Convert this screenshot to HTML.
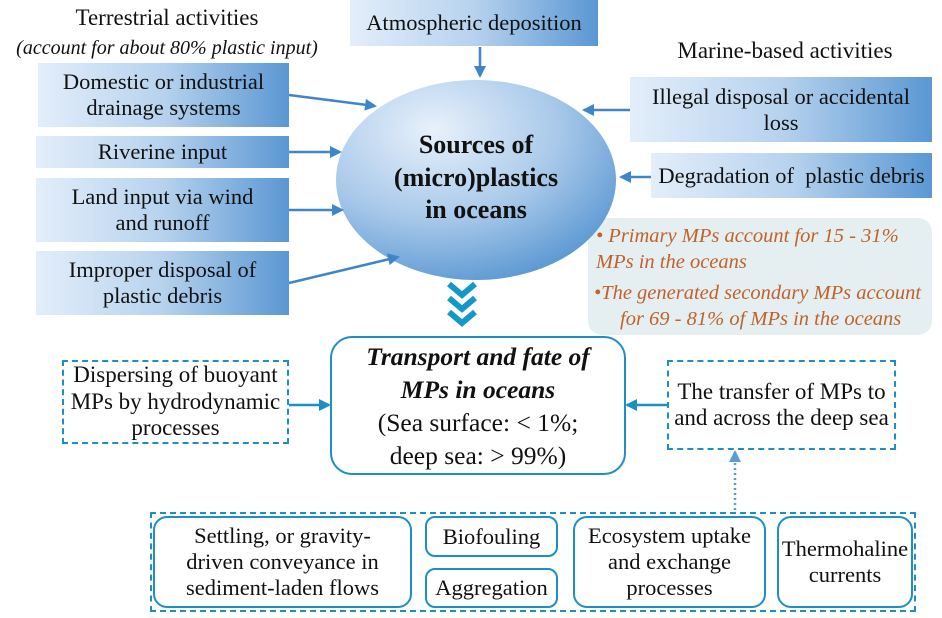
<!DOCTYPE html>
<html><head><meta charset="utf-8"><style>
body{margin:0;width:942px;height:618px;background:#fff;position:relative;overflow:hidden;font-family:"Liberation Serif","Times New Roman",serif;color:#111}
.a{position:absolute;display:flex;align-items:center;justify-content:center;text-align:center;box-sizing:border-box;line-height:1.15;white-space:nowrap}
.g{background:linear-gradient(90deg,#e3eefa 0%,#b7d2ee 50%,#5a97d3 100%);font-size:22.5px}
.d{border:2.5px dashed #1c8fc4;font-size:23px}
.r{border:2.5px solid #1c8fc4;border-radius:14px;font-size:22.5px}
svg{position:absolute;left:0;top:0}
</style></head><body>
<svg width="942" height="618">
<defs>
<radialGradient id="eg" cx="0.35" cy="0.25" r="0.8"><stop offset="0" stop-color="#e8f1fb"/><stop offset="0.55" stop-color="#a9c9ea"/><stop offset="1" stop-color="#5b98d2"/></radialGradient>
<marker id="ar" markerWidth="12" markerHeight="12" refX="10" refY="6" orient="auto" markerUnits="userSpaceOnUse"><path d="M0,0 L12,6 L0,12 z" fill="#3f86c8"/></marker>
<marker id="ar2" markerWidth="12" markerHeight="12" refX="10" refY="6" orient="auto" markerUnits="userSpaceOnUse"><path d="M0,0 L12,6 L0,12 z" fill="#1c8fc4"/></marker>
<marker id="ar3" markerWidth="12" markerHeight="12" refX="10" refY="6" orient="auto" markerUnits="userSpaceOnUse"><path d="M0,0 L12,6 L0,12 z" fill="#5a9dd0"/></marker>
</defs>
<rect x="588" y="218" width="344" height="117" rx="14" fill="#e5eef1"/>
<ellipse cx="476" cy="180" rx="140" ry="100" fill="url(#eg)"/>
<g stroke="#3f86c8" stroke-width="2.5" fill="none" marker-end="url(#ar)">
<line x1="289" y1="95" x2="375" y2="106"/>
<line x1="289" y1="152" x2="340" y2="152"/>
<line x1="289" y1="210" x2="342" y2="210"/>
<line x1="289" y1="283" x2="398" y2="257"/>
<line x1="480" y1="47" x2="480" y2="76"/>
<line x1="630" y1="110" x2="584" y2="110"/>
<line x1="651" y1="177" x2="621" y2="177"/>
</g>
<g stroke="#1c8fc4" stroke-width="2.5" fill="none" marker-end="url(#ar2)">
<line x1="289" y1="405" x2="329" y2="405"/>
<line x1="667" y1="405" x2="627" y2="405"/>
</g>
<line x1="735" y1="510" x2="735" y2="452" stroke="#5a9dd0" stroke-width="2.5" stroke-dasharray="2,3" marker-end="url(#ar3)"/>
<g fill="none" stroke="#1497c9" stroke-width="6">
<polyline points="449,284 462,295 475,284"/>
<polyline points="449,298 462,309 475,298"/>
<polyline points="449,312 462,323 475,312"/>
</g>
</svg>
<div class="a" style="left:0;top:4px;width:334px;font-size:23px;display:block;line-height:1.25">Terrestrial activities<br><i style="font-size:20px">(account for about 80% plastic input)</i></div>
<div class="a g" style="left:38px;top:63px;width:251px;height:64px">Domestic or industrial<br>drainage systems</div>
<div class="a g" style="left:36px;top:136px;width:253px;height:32px">Riverine input</div>
<div class="a g" style="left:36px;top:178px;width:253px;height:64px">Land input via wind<br>and runoff</div>
<div class="a g" style="left:36px;top:251px;width:253px;height:64px">Improper disposal of<br>plastic debris</div>
<div class="a g" style="left:350px;top:0;width:248px;height:46px">Atmospheric deposition</div>
<div class="a" style="left:650px;top:38px;width:270px;font-size:23px">Marine-based activities</div>
<div class="a g" style="left:630px;top:77px;width:302px;height:65px">Illegal disposal or accidental<br>loss</div>
<div class="a g" style="left:651px;top:153px;width:281px;height:45px">Degradation of&nbsp; plastic debris</div>
<div class="a" style="left:340px;top:128px;width:272px;height:100px;font-size:26px;font-weight:bold;line-height:1.25">Sources of<br>(micro)plastics<br>in oceans</div>
<div class="a" style="left:594px;top:224px;width:336px;height:108px;display:block;text-align:left;color:#c0622a;font-style:italic;font-size:20.5px;line-height:1.25">
<div style="padding-left:2px">• Primary MPs account for 15 - 31%<br>MPs in the oceans</div>
<div style="margin-top:6px">•The generated secondary MPs account<br><span style="padding-left:26px">for 69 - 81% of MPs in the oceans</span></div></div>
<div class="a r" style="left:330px;top:336px;width:296px;height:139px;border-radius:22px;font-size:25.5px;line-height:33px;display:block;padding-top:2px"><b><i>Transport and fate of<br>MPs in oceans</i></b><br>(Sea surface: &lt; 1%;<br>deep sea: &gt; 99%)</div>
<div class="a d" style="left:62px;top:360px;width:227px;height:84px">Dispersing of buoyant<br>MPs by hydrodynamic<br>processes</div>
<div class="a d" style="left:667px;top:360px;width:229px;height:90px">The transfer of MPs to<br>and across the deep sea</div>
<div class="a d" style="left:150px;top:512px;width:766px;height:100px"></div>
<div class="a r" style="left:153px;top:516px;width:259px;height:92px">Settling, or gravity-<br>driven conveyance in<br>sediment-laden flows</div>
<div class="a r" style="left:425px;top:516px;width:133px;height:41px;border-radius:10px">Biofouling</div>
<div class="a r" style="left:425px;top:568px;width:133px;height:40px;border-radius:10px">Aggregation</div>
<div class="a r" style="left:573px;top:516px;width:193px;height:92px">Ecosystem uptake<br>and exchange<br>processes</div>
<div class="a r" style="left:777px;top:516px;width:136px;height:92px">Thermohaline<br>currents</div>
</body></html>
